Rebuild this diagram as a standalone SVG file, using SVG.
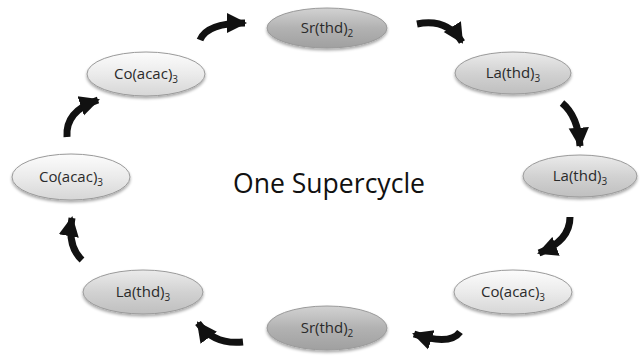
<svg xmlns="http://www.w3.org/2000/svg" width="640" height="356" viewBox="0 0 640 356">
<style>
.lbl{font-family:"Open Sans","Liberation Sans",sans-serif;font-size:15px;fill:#2a2a2a;text-anchor:middle}
.sub{font-size:10px}
.edge{fill:none;stroke:#111;stroke-width:7;stroke-linecap:butt}
.nd{stroke:#9a9a9a;stroke-width:1;filter:url(#sh)}
</style>
<defs>
<linearGradient id="gSr" x1="0" y1="0" x2="0" y2="1">
<stop offset="0" stop-color="#d2d2d2"/><stop offset="0.5" stop-color="#b2b2b2"/><stop offset="1" stop-color="#a0a0a0"/>
</linearGradient>
<linearGradient id="gLa" x1="0" y1="0" x2="0" y2="1">
<stop offset="0" stop-color="#ebebeb"/><stop offset="0.5" stop-color="#d2d2d2"/><stop offset="1" stop-color="#bfbfbf"/>
</linearGradient>
<linearGradient id="gCo" x1="0" y1="0" x2="0" y2="1">
<stop offset="0" stop-color="#fcfcfc"/><stop offset="0.5" stop-color="#ebebeb"/><stop offset="1" stop-color="#d6d6d6"/>
</linearGradient>
<filter id="sh" x="-20%" y="-30%" width="140%" height="170%">
<feGaussianBlur in="SourceAlpha" stdDeviation="1.5"/>
<feOffset dy="2" result="b"/>
<feComponentTransfer><feFuncA type="linear" slope="0.35"/></feComponentTransfer>
<feMerge><feMergeNode/><feMergeNode in="SourceGraphic"/></feMerge>
</filter>
<marker id="ah" viewBox="0 0 10 10" refX="9" refY="5" markerWidth="2.9" markerHeight="3.1" orient="auto" markerUnits="strokeWidth">
<path d="M0,0 L10,5 L0,10 Z" fill="#111"/>
</marker>
</defs>
<rect width="640" height="356" fill="#fff"/>

<g id="connectors">
<path class="edge" d="M200,40 Q207,23 245,23" marker-end="url(#ah)"/>
<path class="edge" d="M417,24 Q447,18 462,42" marker-end="url(#ah)"/>
<path class="edge" d="M562,103 Q578,116 580,146" marker-end="url(#ah)"/>
<path class="edge" d="M570,217 Q570,241 539,253" marker-end="url(#ah)"/>
<path class="edge" d="M460,332 Q450,346 414,334" marker-end="url(#ah)"/>
<path class="edge" d="M243,342 Q214,345 198,323" marker-end="url(#ah)"/>
<path class="edge" d="M82,260 Q67,246 72,218" marker-end="url(#ah)"/>
<path class="edge" d="M67,137 Q65,111 98,100" marker-end="url(#ah)"/>
</g>

<g id="n1"><ellipse class="nd" cx="327" cy="28" rx="60" ry="20" fill="url(#gSr)"/><text class="lbl" x="327" y="33">Sr(thd)<tspan class="sub" dy="4">2</tspan></text></g>
<g id="n2"><ellipse class="nd" cx="513" cy="73" rx="58" ry="21" fill="url(#gLa)"/><text class="lbl" x="513" y="78">La(thd)<tspan class="sub" dy="4">3</tspan></text></g>
<g id="n3"><ellipse class="nd" cx="580" cy="176" rx="57" ry="21" fill="url(#gLa)"/><text class="lbl" x="580" y="181">La(thd)<tspan class="sub" dy="4">3</tspan></text></g>
<g id="n4"><ellipse class="nd" cx="513" cy="292" rx="59" ry="22" fill="url(#gCo)"/><text class="lbl" x="513" y="297">Co(acac)<tspan class="sub" dy="4">3</tspan></text></g>
<g id="n5"><ellipse class="nd" cx="327" cy="328" rx="60" ry="22" fill="url(#gSr)"/><text class="lbl" x="327" y="333">Sr(thd)<tspan class="sub" dy="4">2</tspan></text></g>
<g id="n6"><ellipse class="nd" cx="143" cy="292" rx="60" ry="22" fill="url(#gLa)"/><text class="lbl" x="143" y="297">La(thd)<tspan class="sub" dy="4">3</tspan></text></g>
<g id="n7"><ellipse class="nd" cx="71" cy="177" rx="59" ry="23" fill="url(#gCo)"/><text class="lbl" x="71" y="182">Co(acac)<tspan class="sub" dy="4">3</tspan></text></g>
<g id="n8"><ellipse class="nd" cx="146" cy="74" rx="59" ry="22" fill="url(#gCo)"/><text class="lbl" x="146" y="79">Co(acac)<tspan class="sub" dy="4">3</tspan></text></g>

<text x="329" y="193" font-family="'Open Sans','Liberation Sans',sans-serif" font-size="27" fill="#111" text-anchor="middle" textLength="192" lengthAdjust="spacingAndGlyphs">One Supercycle</text>
</svg>
